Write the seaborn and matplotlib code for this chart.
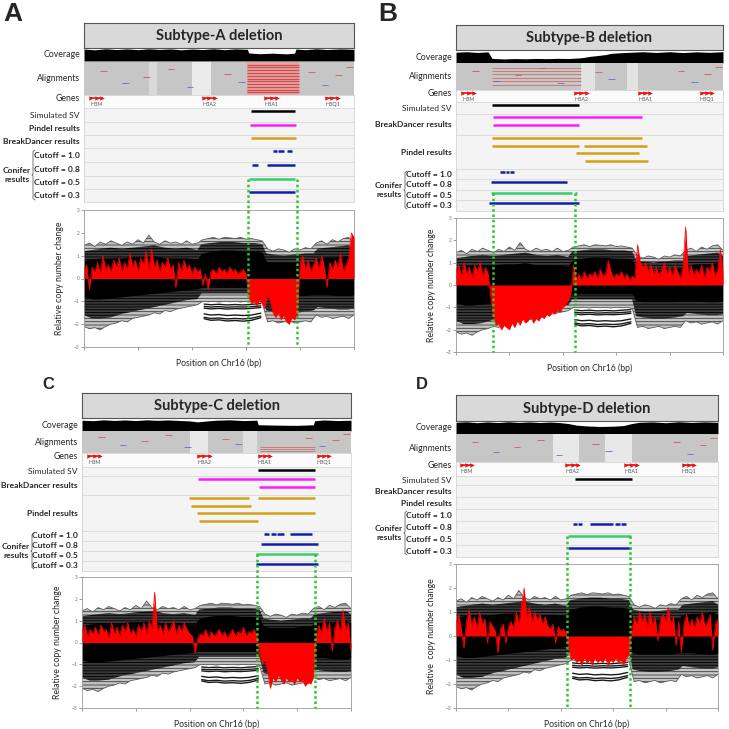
import numpy as np
import pandas as pd
import seaborn as sns
import matplotlib.pyplot as plt
from matplotlib.transforms import blended_transform_factory

sns.set_theme(style="white")
plt.rcParams['font.family'] = ['Lato', 'DejaVu Sans']
plt.rcParams['hatch.linewidth'] = 0.6

# ---------------- data ----------------
gene_names = ["HBM", "HBA2", "HBA1", "HBQ1"]
row_names_A = ["Simulated SV", "Pindel results", "BreakDancer results",
               "Cutoff = 1.0", "Cutoff = 0.8", "Cutoff = 0.5", "Cutoff = 0.3"]
row_names_BCD = ["Simulated SV", "BreakDancer results", "Pindel results",
                 "Cutoff = 1.0", "Cutoff = 0.8", "Cutoff = 0.5", "Cutoff = 0.3"]

# gene centres (% of window)
genes_A = [4.7, 46.4, 69.5, 92.0]
genes_B = [4.7, 47.0, 70.8, 94.0]
genes_C = [4.7, 45.5, 68.0, 90.0]
genes_D = [4.2, 44.5, 67.0, 89.0]

# calls: (row, slot, start, end, caller colour)
calls_A = [(0, 0, 61.7, 78.1, 'sim'), (1, 0, 61.5, 78.5, 'bd'), (2, 0, 62.0, 78.5, 'pin'),
           (3, 0, 69.9, 71.5, 'cn'), (3, 0, 72.0, 74.1, 'cn'), (3, 0, 75.3, 76.9, 'cn'),
           (4, 0, 62.1, 64.6, 'cn'), (4, 0, 67.9, 78.1, 'cn'),
           (5, 0, 61.0, 78.1, 'c05'), (6, 0, 61.0, 78.1, 'cn')]
calls_B = [(0, 0, 13.6, 46.0, 'sim'),
           (1, 0, 14.0, 69.6, 'bd'), (1, 1, 14.0, 46.2, 'bd'),
           (2, 0, 13.6, 69.6, 'pin'), (2, 1, 13.6, 46.2, 'pin'), (2, 1, 48.1, 71.6, 'pin'),
           (2, 2, 44.9, 68.4, 'pin'), (2, 3, 48.5, 71.9, 'pin'),
           (3, 0, 16.5, 18.2, 'cn'), (3, 0, 18.6, 19.7, 'cn'), (3, 0, 20.2, 21.8, 'cn'),
           (4, 0, 13.2, 41.6, 'cn'),
           (5, 0, 13.0, 43.5, 'c05'), (5, 0, 44.4, 45.5, 'c05'),
           (6, 0, 12.5, 46.2, 'cn')]
calls_C = [(0, 0, 65.4, 86.6, 'sim'),
           (1, 0, 43.1, 86.6, 'bd'), (1, 1, 65.9, 86.6, 'bd'),
           (2, 0, 39.8, 62.0, 'pin'), (2, 0, 65.4, 86.6, 'pin'), (2, 1, 40.6, 63.0, 'pin'),
           (2, 2, 42.8, 86.6, 'pin'), (2, 3, 43.4, 65.4, 'pin'),
           (3, 0, 67.8, 69.6, 'cn'), (3, 0, 70.2, 72.0, 'cn'), (3, 0, 72.5, 75.2, 'cn'),
           (3, 0, 77.2, 85.6, 'cn'),
           (4, 0, 66.5, 87.6, 'cn'),
           (5, 0, 64.7, 87.6, 'c05'),
           (6, 0, 64.7, 87.6, 'cn')]
calls_D = [(0, 0, 45.3, 67.0, 'sim'),
           (4, 0, 44.5, 46.3, 'cn'), (4, 0, 46.7, 48.2, 'cn'), (4, 0, 51.0, 60.0, 'cn'),
           (4, 0, 60.5, 62.5, 'cn'), (4, 0, 63.0, 65.0, 'cn'),
           (5, 0, 42.8, 66.8, 'c05'),
           (6, 0, 42.8, 66.8, 'cn')]

# breakpoints marked by green dotted lines
bounds_A = [60.9, 78.8]
bounds_B = [14.0, 44.4]
bounds_C = [65.0, 86.7]
bounds_D = [42.4, 66.5]

# coverage track (fraction of track height)
cov_x_A = [0, 4, 8, 12, 16, 20, 24, 28, 32, 36, 40, 44, 48, 52, 56, 60.5, 61, 65, 70, 75, 78, 78.5,
           82, 86, 90, 95, 100]
cov_y_A = [0.92, 0.86, 0.94, 0.88, 0.93, 0.87, 0.94, 0.89, 0.93, 0.86, 0.92, 0.88, 0.94, 0.87,
           0.93, 0.9, 0.62, 0.56, 0.6, 0.55, 0.6, 0.92, 0.87, 0.94, 0.88, 0.93, 0.9]
cov_x_B = [0, 4, 8, 12, 13.5, 18, 22, 26, 30, 34, 38, 42, 46, 48, 50, 53, 56, 58, 62, 66, 70, 75,
           80, 85, 90, 95, 100]
cov_y_B = [0.9, 0.94, 0.88, 0.93, 0.38, 0.34, 0.37, 0.35, 0.38, 0.36, 0.39, 0.37, 0.42, 0.47,
           0.55, 0.62, 0.7, 0.8, 0.86, 0.9, 0.94, 0.88, 0.94, 0.87, 0.93, 0.89, 0.94]
cov_x_C = [0, 4, 8, 12, 16, 20, 24, 28, 32, 36, 40, 43, 47, 50, 55, 60, 65, 65.5, 70, 75, 80, 86,
           86.5, 90, 95, 100]
cov_y_C = [0.9, 0.86, 0.93, 0.88, 0.92, 0.87, 0.93, 0.89, 0.92, 0.88, 0.84, 0.76, 0.85, 0.9,
           0.93, 0.87, 0.9, 0.52, 0.5, 0.48, 0.47, 0.52, 0.86, 0.92, 0.87, 0.9]
cov_x_D = [0, 4, 8, 12, 16, 20, 24, 28, 32, 36, 40, 43, 46, 50, 55, 60, 64, 67, 70, 75, 80, 85,
           90, 95, 100]
cov_y_D = [0.9, 0.94, 0.87, 0.93, 0.88, 0.94, 0.89, 0.93, 0.88, 0.92, 0.87, 0.8, 0.68, 0.62,
           0.58, 0.6, 0.65, 0.8, 0.9, 0.93, 0.87, 0.94, 0.89, 0.93, 0.9]

# alignment track: pale bands (start, end, alpha), split-read span and its rows
bands_A = [(24, 27, 0.35), (40, 47, 0.65)]
bands_B = [(47, 52, 0.5), (64, 68, 0.5)]
bands_C = [(40, 47, 0.6), (60, 65, 0.45)]
bands_D = [(37, 47, 0.6), (57, 67, 0.6)]
split_A = (60.3, 79.6)
split_B = (13.5, 47.0)
split_C = (66.0, 86.5)
split_rows_A = [0.08, 0.16, 0.25, 0.33, 0.42, 0.5, 0.58, 0.67, 0.75, 0.84, 0.92]
split_rows_B = [0.2, 0.32, 0.45, 0.58, 0.7, 0.82]
split_rows_C = [0.08, 0.16, 0.26]
dash_x = [6, 14, 22, 31, 38, 52, 57, 83, 88, 93, 97]
dash_y = [0.72, 0.35, 0.55, 0.8, 0.25, 0.65, 0.4, 0.7, 0.3, 0.6, 0.85]
dash_c = ['r', 'b', 'r', 'r', 'b', 'r', 'b', 'r', 'b', 'r', 'r']

# reference samples (black bundle), same in all panels
# outer hairy edge, every 2 % of the window
wisp_x = list(range(0, 101, 2))
wisp_hi = [1.45, 1.55, 1.4, 1.6, 1.5, 1.65, 1.55, 1.45, 1.6, 1.5, 1.7, 1.55, 1.9, 1.6, 1.5,
           1.65, 1.55, 1.6, 1.5, 1.65, 1.5, 1.55,
           1.7, 1.75, 1.8, 1.72, 1.8, 1.78, 1.75, 1.8, 1.72, 1.75, 1.7, 1.65,
           1.3, 1.2, 1.3, 1.25, 1.15, 1.3, 1.25, 1.35, 1.3,
           1.55, 1.65, 1.5, 1.7, 1.6, 1.75, 1.8, 1.55]
wisp_lo = [-2.1, -2.2, -2.15, -2.25, -2.1, -2.0, -1.95, -1.85, -1.9, -1.75, -1.7, -1.65, -1.6,
           -1.5, -1.55, -1.4, -1.45, -1.35, -1.3, -1.25, -1.2, -1.15,
           -1.0, -1.02, -1.0, -1.03, -1.0, -1.02, -1.0, -1.03, -1.0, -1.02, -1.0, -1.05,
           -1.9, -1.85, -1.95, -1.9, -1.85, -1.95, -1.9, -1.85, -1.9,
           -1.6, -1.7, -1.65, -1.75, -1.7, -1.65, -1.75, -1.6]
# denser core
env_x = [0, 3, 6, 10, 14, 18, 22, 26, 30, 34, 38, 42, 43.5, 47, 51, 55, 59, 63, 66,
         67.5, 70, 74, 78, 82, 85, 86.5, 90, 94, 98, 100]
mid_hi = [1.2, 1.25, 1.3, 1.35, 1.3, 1.35, 1.4, 1.45, 1.35, 1.3, 1.35, 1.25, 1.5, 1.55, 1.6,
          1.6, 1.55, 1.55, 1.5, 1.1, 1.05, 1.0, 1.05, 1.1, 1.1, 1.3, 1.35, 1.4, 1.45, 1.3]
inner_hi = [0.8, 0.85, 0.9, 0.9, 0.9, 0.95, 0.95, 1.0, 0.9, 0.9, 0.9, 0.85, 1.1, 1.2, 1.25,
            1.25, 1.2, 1.2, 1.15, 0.75, 0.7, 0.7, 0.7, 0.75, 0.75, 0.9, 0.95, 0.95, 1.0, 0.9]
inner_lo = [-0.8, -0.9, -0.9, -0.85, -0.8, -0.75, -0.7, -0.65, -0.6, -0.55, -0.5, -0.45, -0.4,
            -0.4, -0.4, -0.4, -0.4, -0.4, -0.4, -0.7, -0.75, -0.75, -0.75, -0.75, -0.7,
            -0.7, -0.7, -0.75, -0.75, -0.7]
mid_lo = [-1.6, -1.75, -1.75, -1.7, -1.55, -1.45, -1.35, -1.25, -1.15, -1.05, -0.95, -0.9, -0.65,
          -0.65, -0.65, -0.65, -0.65, -0.65, -0.65, -1.4, -1.45, -1.5, -1.5, -1.45, -1.4,
          -1.25, -1.3, -1.35, -1.35, -1.3]
# samples carrying the common alpha-thal deletion (lower shelf lines)
shelf_x = [44.5, 47, 50, 53, 56, 59, 62, 65.5]
shelf_1 = [-1.12, -1.15, -1.13, -1.16, -1.14, -1.16, -1.13, -1.1]
shelf_2 = [-1.22, -1.25, -1.23, -1.26, -1.24, -1.25, -1.23, -1.2]
shelf_3 = [-1.3, -1.33, -1.31, -1.34, -1.32, -1.33, -1.31, -1.27]
shelf_4 = [-1.55, -1.6, -1.58, -1.62, -1.6, -1.62, -1.6, -1.52]
shelf_5 = [-1.7, -1.75, -1.73, -1.77, -1.75, -1.77, -1.74, -1.65]
shelf_6 = [-1.76, -1.83, -1.81, -1.86, -1.84, -1.87, -1.83, -1.72]

# test sample relative copy number (red), one value per % of window
pos = list(range(101))
cnv_A = [0.4, 0.6, -0.5, 0.5, 0.3, 0.7, 0.2, 1.0, 0.4, 0.6, 0.3,
         0.8, 0.5, 0.9, 0.3, 0.7, 0.4, 1.1, 0.5, 0.8, 0.3,
         0.9, 0.6, 1.2, 0.4, 1.3, 0.5, 0.8, 0.3, 0.7, 0.5,
         0.9, 0.4, 0.6, -0.4, 0.7, 0.3, 0.8, 0.4, 0.6, 0.2,
         0.5, 0.3, 0.4, -0.3, 0.2, -0.5, 0.3, 0.4, 0.2, 0.5,
         0.3, 0.4, 0.2, 0.5, 0.3, 0.4, 0.2, 0.3, 0.4, 0.2,
         -0.8, -1.1, -1.0, -1.2, -0.9, -1.1, -1.3, -0.7, -1.0, -1.5,
         -1.7, -1.5, -1.8, -1.6, -1.9, -2.0, -1.7, -1.8, -1.6, 0.6,
         1.0, 0.4, 0.8, 0.3, 0.6, 0.9, 0.4, 1.0, 0.5, -0.4,
         0.7, 0.4, 0.8, 0.5, 1.1, 0.3, 0.6, 0.9, 2.0, 1.8]
cnv_B = [0.6, 0.9, 0.4, 1.0, 0.5, 0.8, 0.3, 0.9, 0.6, 1.0, 0.4,
         0.8, 0.5, -0.5, -1.4, -1.8, -1.7, -2.0, -1.8, -1.9, -2.0,
         -1.7, -1.9, -1.6, -1.8, -1.5, -1.7, -1.6, -1.4, -1.7, -1.5,
         -1.6, -1.4, -1.5, -1.3, -1.4, -1.2, -1.3, -1.1, -1.2, -1.0,
         -0.9, -0.7, -0.4, 0.9, 0.3, 0.5, 0.2, 0.6, 0.3, 0.5,
         0.4, 0.6, 0.3, 0.7, 0.4, 0.5, 1.1, 0.6, 0.3, 0.5,
         0.4, 0.6, 0.3, 0.5, 0.2, 0.4, 0.3, 1.8, 1.0, 0.8,
         1.0, 0.6, 0.9, 0.5, 0.8, 0.4, 0.7, 1.0, 0.5, 0.8,
         0.4, 0.9, 0.6, 0.3, 0.8, 2.6, 0.5, 0.9, 0.4, 0.7,
         0.5, 0.9, 0.3, 0.8, 0.6, 1.0, 0.4, 0.7, 1.6, 0.5]
cnv_C = [0.5, 0.8, 0.3, 0.6, 0.4, 0.7, 0.3, 0.8, 0.5, 0.6, 0.2,
         0.9, 0.4, 0.7, 0.3, 0.8, 0.5, 0.9, 0.4, 0.6, 0.3,
         0.8, 0.5, 0.9, 0.4, 1.0, 0.6, 2.3, 0.5, 0.8, 0.4,
         0.9, 0.5, 0.7, 1.0, 0.4, 0.8, 0.5, 0.9, 0.6, 0.4,
         0.3, -0.5, 0.2, 0.4, 0.3, 0.6, 0.2, 0.5, 0.3, 0.4,
         0.6, 0.3, 0.5, 0.2, 0.4, 0.6, 0.3, 0.5, 0.4, 0.7,
         0.3, 0.5, 0.4, 0.6, 0.3, -0.5, -1.0, -0.8, -1.3, -2.1,
         -1.6, -1.8, -1.5, -1.7, -1.9, -1.6, -1.8, -1.7, -1.9, -1.6,
         -1.8, -1.7, -2.0, -1.8, -1.9, -1.6, 0.3, 0.8, 0.4, 1.1,
         0.5, 0.9, -0.4, 0.7, 1.0, 0.4, 1.5, 0.6, 0.9, -0.4]
cnv_D = [0.5, 0.9, 0.3, -0.5, 0.6, 1.1, 0.4, 0.8, 0.3, 1.0, 0.5,
         0.7, -0.3, 0.6, 0.4, 0.2, -0.7, 0.3, 0.5, -0.3, 0.4,
         0.6, 0.3, 1.0, 0.5, 1.3, 2.0, 0.8, 1.2, 0.6, 1.0,
         0.7, 0.9, 0.5, 0.8, 0.4, 0.3, 0.5, -0.3, 0.4, 0.2,
         0.3, 0.1, -0.5, -1.0, -0.9, -1.1, -1.0, -1.2, -0.9, -1.1,
         -1.0, -1.2, -0.9, -1.1, -1.0, -1.1, -0.9, -1.2, -1.0, -1.1,
         -0.9, -1.1, -1.0, -1.2, -0.9, -0.8, 0.2, 0.8, 0.5, 1.0,
         0.6, 0.9, 0.4, 1.0, 0.5, 0.8, -0.2, 0.7, 0.9, 0.6,
         1.2, 0.5, 0.8, -0.4, 0.6, -0.7, 0.5, 0.9, 0.4, 0.7,
         0.3, 0.8, 0.5, 1.0, 0.4, 0.6, 0.9, -0.6, 0.5, 0.7]

caller_colors = {'sim': '#000000', 'bd': '#ff1aff', 'pin': '#d4a017',
                 'cn': '#1020a8', 'c05': '#35d06a'}
GREEN = '#2ec42e'

# ---------------- layout (pixels from top-left) ----------------
panels = [
    dict(name="Subtype-A deletion", letter="A", letter_xy=(3, 2), letter_size=19,
         left=84, right=354, title=(23, 48), cov=(48, 61), align=(62, 95), genes_top=95,
         seps=[108, 122, 135, 148, 162, 176, 189, 202], plot=(210, 347), brk_x=33,
         rows=row_names_A, calls=calls_A, genes=genes_A, cov_x=cov_x_A, cov_y=cov_y_A,
         bands=bands_A, split=split_A, split_rows=split_rows_A, pink=True,
         cnv=cnv_A, bounds=bounds_A, ylab="Relative copy number change"),
    dict(name="Subtype-B deletion", letter="B", letter_xy=(378, 2), letter_size=19,
         left=456, right=723, title=(25, 50), cov=(51, 63), align=(63, 90), genes_top=90,
         seps=[102, 114, 135, 169, 179, 190, 200, 211], plot=(218, 352), brk_x=405,
         rows=row_names_BCD, calls=calls_B, genes=genes_B, cov_x=cov_x_B, cov_y=cov_y_B,
         bands=bands_B, split=split_B, split_rows=split_rows_B, pink=False,
         cnv=cnv_B, bounds=bounds_B, ylab="Relative copy number change"),
    dict(name="Subtype-C deletion", letter="C", letter_xy=(42, 377), letter_size=12,
         left=82, right=351, title=(393, 418), cov=(419, 431), align=(431, 453), genes_top=453,
         seps=[467, 476, 495, 531, 541, 551, 561, 571], plot=(577, 708), brk_x=32,
         rows=row_names_BCD, calls=calls_C, genes=genes_C, cov_x=cov_x_C, cov_y=cov_y_C,
         bands=bands_C, split=split_C, split_rows=split_rows_C, pink=False,
         cnv=cnv_C, bounds=bounds_C, ylab="Relative copy number change"),
    dict(name="Subtype-D deletion", letter="D", letter_xy=(416, 377), letter_size=12,
         left=456, right=718, title=(395, 421), cov=(421, 434), align=(434, 462), genes_top=462,
         seps=[476, 485, 497, 509, 521, 533, 545, 557], plot=(564, 708), brk_x=405,
         rows=row_names_BCD, calls=calls_D, genes=genes_D, cov_x=cov_x_D, cov_y=cov_y_D,
         bands=bands_D, split=None, split_rows=[], pink=False,
         cnv=cnv_D, bounds=bounds_D, ylab="Relative  copy number change"),
]

W = 729
fig = plt.figure(figsize=(7.29, 7.29), dpi=100)


def add_px(x0, y0, x1, y1, **kw):
    return fig.add_axes([x0 / W, 1 - y1 / W, (x1 - x0) / W, (y1 - y0) / W], **kw)


ov = fig.add_axes([0, 0, 1, 1], zorder=20)
ov.set_xlim(0, W)
ov.set_ylim(W, 0)
ov.axis('off')
ov.patch.set_alpha(0)

edges = pd.DataFrame({'x': wisp_x * 2, 'y': wisp_hi + wisp_lo,
                      'edge': ['hi'] * len(wisp_x) + ['lo'] * len(wisp_x)})
shelves = pd.DataFrame({'x': shelf_x * 6,
                        'y': shelf_1 + shelf_2 + shelf_3 + shelf_4 + shelf_5 + shelf_6,
                        'line': np.repeat(np.arange(6), len(shelf_x))})

for p in panels:
    L, R = p['left'], p['right']
    seps = p['seps']

    # title box
    ax = add_px(L, p['title'][0], R, p['title'][1])
    ax.set_facecolor('#d9d9d9')
    ax.set_xticks([])
    ax.set_yticks([])
    for s in ax.spines.values():
        s.set_color('#555555')
        s.set_linewidth(0.8)
    ax.text(0.5, 0.47, p['name'], ha='center', va='center', fontsize=10.5,
            fontweight='bold', transform=ax.transAxes)

    # coverage
    ax = add_px(L, p['cov'][0], R, p['cov'][1])
    ax.fill_between(p['cov_x'], 0, p['cov_y'], color='black', lw=0)
    ax.set_xlim(0, 100)
    ax.set_ylim(0, 1)
    ax.axis('off')

    # alignments
    ax = add_px(L, p['align'][0], R, p['align'][1])
    ax.set_facecolor('#c6c6c6')
    for s0, s1, a in p['bands']:
        ax.axvspan(s0, s1, color='white', alpha=a, lw=0)
    if p['split'] is not None:
        if p['pink']:
            ax.axvspan(p['split'][0], p['split'][1], color='#e2a6a6', lw=0)
        ax.hlines(p['split_rows'], p['split'][0], p['split'][1], color='#d03a3a',
                  lw=0.9 if p['pink'] else 0.45, alpha=0.85)
    for dx, dy, dc in zip(dash_x, dash_y, dash_c):
        ax.hlines(dy, dx, dx + 2.5, color='#d05a5a' if dc == 'r' else '#6a6ac8', lw=0.6)
    ax.set_xlim(0, 100)
    ax.set_ylim(0, 1)
    ax.set_xticks([])
    ax.set_yticks([])
    for s in ax.spines.values():
        s.set_visible(False)

    # genes + caller rows
    gt = p['genes_top']
    ax = add_px(L, gt, R, seps[-1])
    ax.set_xlim(0, 100)
    ax.set_ylim(seps[-1], gt)
    ax.axhspan(gt, seps[0], color='#fbfbfb', lw=0)
    ax.axhspan(seps[0], seps[-1], color='#f4f4f4', lw=0)
    ax.hlines(seps, 0, 100, color='#d8d8d8', lw=0.6)
    for g, gn in zip(p['genes'], gene_names):
        ax.plot([g - 2.0, g, g + 2.0], [gt + 3] * 3, color='#ee1111', lw=1.2,
                marker='>', ms=3.2, mew=0)
        ax.text(g, gt + 9.5, gn, ha='center', va='center', fontsize=3.8, color='#555555')
    for row, slot, s0, s1, c in p['calls']:
        ax.hlines(seps[row] + 2.8 + 7.8 * slot, s0, s1, color=caller_colors[c], lw=1.8)
    ax.set_xticks([])
    ax.set_yticks([])
    for s in ax.spines.values():
        s.set_color('#cccccc')
        s.set_linewidth(0.5)

    # copy-number plot
    ax = add_px(L, p['plot'][0], R, p['plot'][1])
    ax.fill_between(wisp_x, wisp_lo, wisp_hi, facecolor='#c4c4c4', edgecolor='#3c3c3c',
                    hatch='-----', lw=0)
    ax.fill_between(env_x, mid_lo, mid_hi, facecolor='#3a3a3a', edgecolor='#000000',
                    hatch='------', lw=0)
    ax.fill_between(env_x, inner_lo, inner_hi, color='black', lw=0)
    sns.lineplot(data=edges, x='x', y='y', units='edge', estimator=None,
                 color='#5a5a5a', lw=0.6, ax=ax)
    sns.lineplot(data=shelves, x='x', y='y', units='line', estimator=None,
                 color='#1a1a1a', lw=1.0, ax=ax)
    ax.fill_between(pos, 0, p['cnv'], color='#ff0000', lw=0, zorder=3)
    sns.lineplot(x=pos, y=p['cnv'], color='#ff0000', lw=0.5, ax=ax, zorder=4)
    ax.set_xlim(0, 100)
    ax.set_ylim(-3, 3)
    ax.set_xticks([0, 20, 40, 60, 80, 100])
    ax.set_xticklabels([])
    ax.set_yticks([-3, -2, -1, 0, 1, 2, 3])
    ax.tick_params(axis='both', bottom=True, left=True, length=2, width=0.5,
                   colors='#777777', labelsize=3.5, pad=1)
    for s in ax.spines.values():
        s.set_color('#9a9a9a')
        s.set_linewidth(0.6)
    ax.set_ylabel(p['ylab'], fontsize=6.3)
    ax.yaxis.set_label_coords(-20 / (R - L), 0.5)
    ax.set_xlabel("Position on Chr16 (bp)", fontsize=6.2)
    ax.xaxis.set_label_coords(0.5, -11 / (p['plot'][1] - p['plot'][0]))

    # green dotted breakpoint lines from the 0.5 cutoff row down through the plot
    trans = blended_transform_factory(ax.transData, ov.transData)
    y_start = seps[5] + 2.8
    for b in p['bounds']:
        ov.plot([b, b], [y_start, p['plot'][1]], transform=trans, color=GREEN,
                lw=1.8, ls=(0, (1, 1.1)))

    # left-hand labels
    lx = L - 4
    ov.text(lx, sum(p['cov']) / 2, "Coverage", ha='right', va='center', fontsize=6.3)
    ov.text(lx, sum(p['align']) / 2, "Alignments", ha='right', va='center', fontsize=6.3)
    ov.text(lx, gt + 3.5, "Genes", ha='right', va='center', fontsize=6.3)
    for i, rn in enumerate(p['rows']):
        ov.text(lx, (seps[i] + seps[i + 1]) / 2, rn, ha='right', va='center',
                fontsize=6.1, fontweight='normal' if rn == "Simulated SV" else 'bold')
    bx = p['brk_x']
    y0, y1 = seps[3] + 2, seps[7] - 2
    ym = (y0 + y1) / 2
    ov.plot([bx + 2, bx, bx, bx - 1.2, bx, bx, bx + 2],
            [y0, y0 + 1.5, ym - 1, ym, ym + 1, y1 - 1.5, y1], color='#444444', lw=0.5)
    ov.text(bx - 2, ym, "Conifer\nresults", ha='right', va='center', fontsize=6.1,
            fontweight='bold', multialignment='center', linespacing=1.3)

    # panel letter
    ov.text(p['letter_xy'][0], p['letter_xy'][1], p['letter'], ha='left', va='top',
            fontsize=p['letter_size'], fontweight='bold', family='Liberation Sans')

fig.savefig("out.png", dpi=100)
